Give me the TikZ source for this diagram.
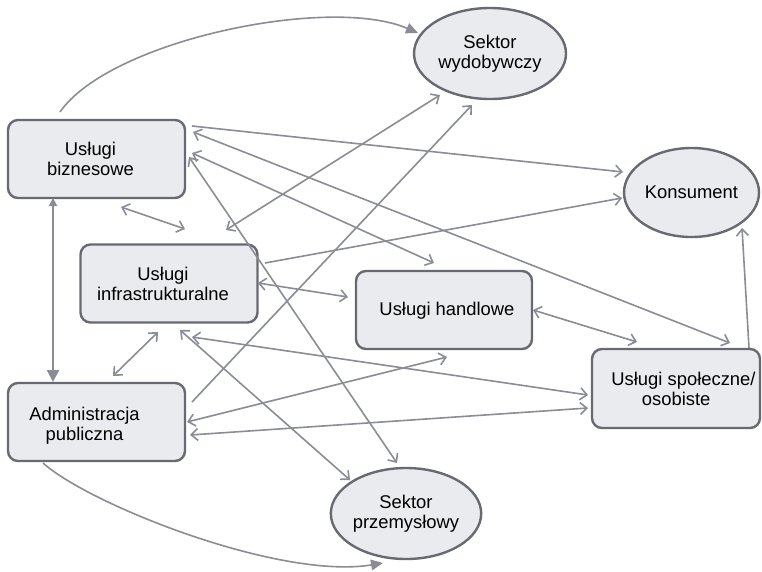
\documentclass[tikz,border=0pt]{standalone}
\usepackage{fontspec}
\setmainfont{Liberation Sans}
\usetikzlibrary{arrows.meta,shapes.geometric,calc}
\definecolor{linkgray}{RGB}{138,140,150}
\definecolor{edgegray}{RGB}{104,106,114}
\definecolor{boxfill}{RGB}{233,235,238}
\begin{document}
\begin{tikzpicture}[x=0.75pt,y=-0.75pt,
  font=\fontsize{13.8}{15}\selectfont,
  box/.style={draw=edgegray,line width=1.8pt,fill=boxfill,rounded corners=7.5pt,
    minimum width=132.75pt,minimum height=58.5pt,inner sep=0pt,align=center},
  oval/.style={ellipse,draw=edgegray,line width=1.8pt,fill=boxfill,inner sep=0pt,align=center},
  txt/.style={align=center,inner sep=0pt},
  link/.style={draw=linkgray,line width=1.2pt,-{Straight Barb[length=5pt,width=9pt]}},
  duo/.style={draw=linkgray,line width=1.2pt,
    {Straight Barb[length=5pt,width=9pt]}-{Straight Barb[length=5pt,width=9pt]}},
  arcflow/.style={draw=linkgray,line width=1.2pt,-{Triangle[length=9pt,width=8pt]}},
  pillar/.style={draw=linkgray,line width=1.8pt,
    {Triangle[length=6pt,width=6pt]}-{Triangle[length=9pt,width=9pt]}}
]
\useasboundingbox (0,0) rectangle (762,571);

% sectors and the consumer
\node[oval,minimum width=114pt,minimum height=68.25pt] (wyd) at (490,53.5) {Sektor\\wydobywczy};
\node[oval,minimum width=101.25pt,minimum height=66.75pt] (kon) at (691.5,192.5) {Konsument};
\node[oval,minimum width=112.5pt,minimum height=68.25pt] (prz) at (406,513.5) {Sektor\\przemysłowy};

% service boxes
\node[box] (biz) at (96.5,159) {};
\node[txt] (biz-t) at (90.5,159) {Usługi\\biznesowe};
\node[box] (inf) at (169,283.5) {};
\node[txt] (inf-t) at (163,284) {Usługi\\infrastrukturalne};
\node[box] (adm) at (96.5,422) {};
\node[txt] (adm-t) at (84.5,426) {Administracja\\publiczna};
\node[box,minimum width=132pt] (han) at (444,310) {};
\node[txt] (han-t) at (447,310.5) {Usługi handlowe};
\node[box,minimum width=126pt,minimum height=59.25pt] (spo) at (676,388.5) {};
\node[txt] (spo-t) at (683.5,389) {Usługi społeczne/\\\hspace*{-11pt}osobiste};

% curved flows
\draw[arcflow] ($(biz)+(-36.5,-47)$) .. controls (110,40) and (330,-5) .. ($(wyd)+(-72,-20.5)$);
\draw[arcflow] ($(adm)+(-53.5,41)$) .. controls (90,505) and (280,580) .. ($(prz)+(-23,49.5)$);

% business services and public administration
\draw[pillar] ($(biz)+(-43.5,39)$) -- ($(adm)+(-43.5,-40)$);

% from business services
\draw[link] ($(biz)+(95.5,-33)$) -- ($(kon)+(-68.5,-20.5)$);
\draw[duo] ($(biz)+(96.5,-27)$) -- ($(spo)+(54,-45.5)$);
\draw[duo] ($(biz)+(95.5,-6)$) -- ($(han)+(-10,-47)$);
\draw[duo] ($(biz)+(92.5,-2)$) -- ($(prz)+(-9,-50.5)$);
\draw[duo] ($(biz)+(24.5,48)$) -- ($(inf)+(16,-54.5)$);

% from infrastructure services
\draw[duo] ($(inf)+(57,-53.5)$) -- ($(wyd)+(-50,41.5)$);
\draw[link] ($(inf)+(96,-20.5)$) -- ($(kon)+(-69.5,5.5)$);
\draw[duo] ($(inf)+(89,-0.5)$) -- ($(han)+(-96,-13)$);
\draw[duo] ($(inf)+(-11,48.5)$) -- ($(adm)+(16.5,-46)$);
\draw[duo] ($(inf)+(11,46.5)$) -- ($(prz)+(-56,-33.5)$);
\draw[duo] ($(inf)+(23,53.5)$) -- ($(spo)+(-88,6.5)$);

% from public administration
\draw[link] ($(adm)+(95.5,-20)$) -- ($(wyd)+(-18,51.5)$);
\draw[duo] ($(adm)+(90.5,0)$) -- ($(han)+(3,47)$);
\draw[duo] ($(adm)+(93.5,13)$) -- ($(spo)+(-88,19.5)$);

% trade and social services
\draw[duo] ($(han)+(89,0)$) -- ($(spo)+(-39,-46.5)$);
\draw[link] ($(spo)+(73,-40.5)$) -- ($(kon)+(50.5,35.5)$);
\end{tikzpicture}
\end{document}
